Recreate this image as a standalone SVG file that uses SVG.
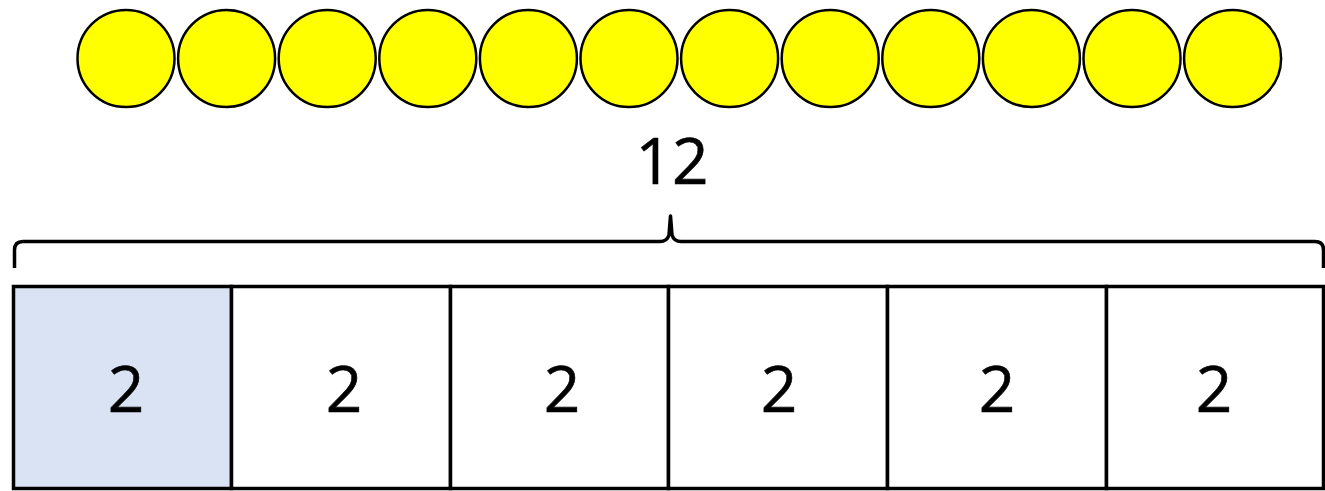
<svg xmlns="http://www.w3.org/2000/svg" width="1325" height="491" viewBox="0 0 1325 491">
<style>
.dot{fill:#ffff00;stroke:#000;stroke-width:2.5}
.cell{stroke:#000;stroke-width:3.5}
.lbl{font-family:"Open Sans","Liberation Sans",sans-serif;font-size:64px;fill:#000;text-anchor:middle;stroke:#000;stroke-width:0.6}
.brace{fill:none;stroke:#000;stroke-width:3.5;stroke-linejoin:round}
</style>
<rect width="1325" height="491" fill="#fff"/>
<g id="counters">
<circle class="dot" cx="126" cy="58.5" r="48.5"/>
<circle class="dot" cx="226.6" cy="58.5" r="48.5"/>
<circle class="dot" cx="327.2" cy="58.5" r="48.5"/>
<circle class="dot" cx="427.8" cy="58.5" r="48.5"/>
<circle class="dot" cx="528.4" cy="58.5" r="48.5"/>
<circle class="dot" cx="629" cy="58.5" r="48.5"/>
<circle class="dot" cx="729.6" cy="58.5" r="48.5"/>
<circle class="dot" cx="830.2" cy="58.5" r="48.5"/>
<circle class="dot" cx="930.8" cy="58.5" r="48.5"/>
<circle class="dot" cx="1031.4" cy="58.5" r="48.5"/>
<circle class="dot" cx="1132" cy="58.5" r="48.5"/>
<circle class="dot" cx="1232.6" cy="58.5" r="48.5"/>
</g>
<g id="total">
<text class="lbl" x="672" y="184">12</text>
<path class="brace" d="M14.5,268 L14.5,250 Q14.5,241.5 23,241.5 L660,241.5 Q667,241.5 669,235 L670.5,216 L672,235 Q674,241.5 681,241.5 L1315,241.5 Q1323.5,241.5 1323.5,250 L1323.5,268"/>
</g>
<g id="bar">
<rect class="cell" x="13.5" y="286.5" width="218" height="202" fill="#dae3f3"/>
<rect class="cell" x="231.5" y="286.5" width="219" height="202" fill="#fff"/>
<rect class="cell" x="450.5" y="286.5" width="218" height="202" fill="#fff"/>
<rect class="cell" x="668.5" y="286.5" width="219" height="202" fill="#fff"/>
<rect class="cell" x="887.5" y="286.5" width="219" height="202" fill="#fff"/>
<rect class="cell" x="1106.5" y="286.5" width="217" height="202" fill="#fff"/>
<text class="lbl" x="126" y="412">2</text>
<text class="lbl" x="344" y="412">2</text>
<text class="lbl" x="562" y="412">2</text>
<text class="lbl" x="779" y="412">2</text>
<text class="lbl" x="997" y="412">2</text>
<text class="lbl" x="1214" y="412">2</text>
</g>
</svg>
